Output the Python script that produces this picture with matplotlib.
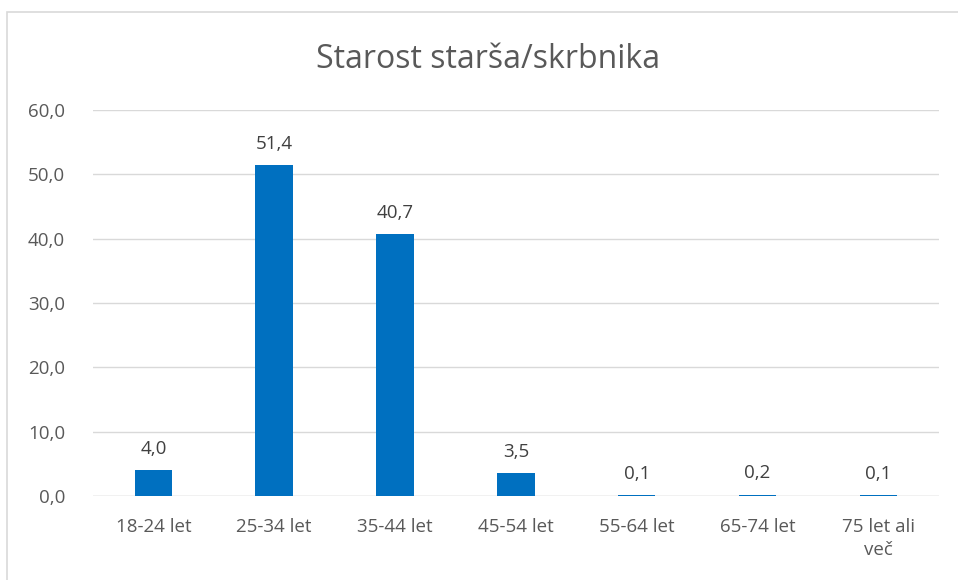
import matplotlib.pyplot as plt
from matplotlib.patches import Rectangle

categories = ['18-24 let', '25-34 let', '35-44 let', '45-54 let',
              '55-64 let', '65-74 let', '75 let ali\nveč']
values = [4.0, 51.4, 40.7, 3.5, 0.1, 0.2, 0.1]
yticks = [0, 10, 20, 30, 40, 50, 60]

plt.rcParams['font.family'] = ['Open Sans', 'DejaVu Sans']
text_col = '#595959'

fig = plt.figure(figsize=(9.58, 5.8), dpi=100)
ax = fig.add_axes([0.097, 0.145, 0.883, 0.665])

x = range(len(categories))
ax.bar(x, values, width=0.31, color='#0070C0', zorder=3)
for xi, v in zip(x, values):
    ax.annotate(f'{v:.1f}'.replace('.', ','), (xi, v), xytext=(0, 9),
                textcoords='offset points', ha='center', va='bottom',
                fontsize=13.5, color='#404040')

ax.set_xlim(-0.5, len(categories) - 0.5)
ax.set_ylim(0, 60)
ax.set_yticks(yticks)
ax.set_yticklabels([f'{t:.1f}'.replace('.', ',') for t in yticks])
ax.set_xticks(list(x))
ax.set_xticklabels(categories, va='top', linespacing=1.35)
ax.tick_params(axis='both', length=0, labelsize=13.5, colors=text_col)
ax.tick_params(axis='x', pad=16)
ax.tick_params(axis='y', pad=20)
ax.grid(axis='y', color='#D9D9D9', linewidth=1, zorder=0)
for s in ax.spines.values():
    s.set_visible(False)
ax.axhline(0, color='#D9D9D9', linewidth=1, zorder=2)

fig.text(0.509, 0.898, 'Starost starša/skrbnika', ha='center', va='center',
         fontsize=23, color=text_col)

# chart border (only left/top visible in crop)
fig.patches.append(Rectangle((0.007, -0.1), 1.2, 1.08, transform=fig.transFigure,
                             fill=False, edgecolor='#D9D9D9', linewidth=1.2))

fig.savefig('out.png', dpi=100)
